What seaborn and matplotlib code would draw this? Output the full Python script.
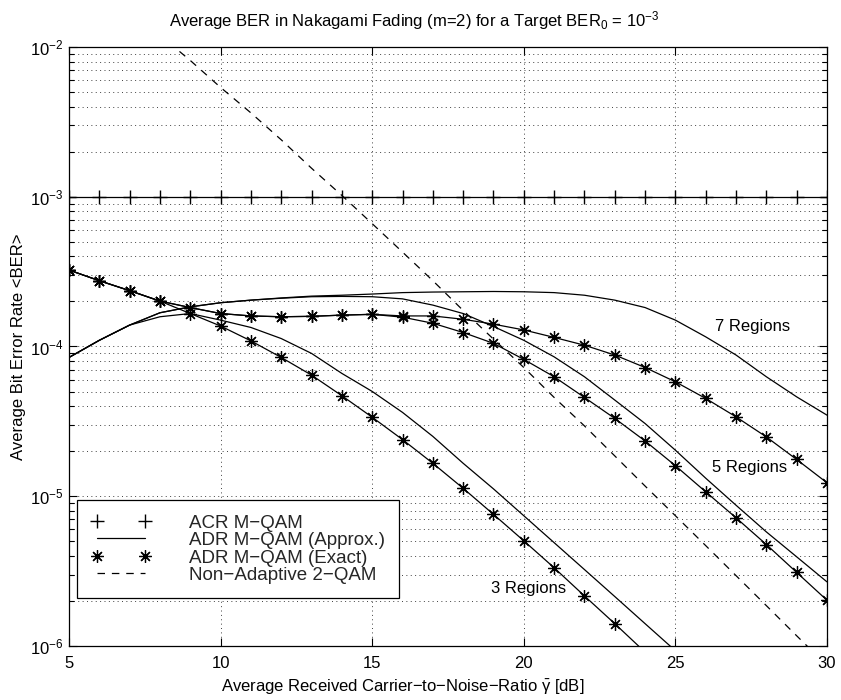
import matplotlib
matplotlib.use("Agg")
import matplotlib.pyplot as plt
from matplotlib.lines import Line2D
from matplotlib.ticker import FixedLocator, LogLocator, LogFormatterMathtext, NullFormatter
import seaborn as sns

# Average carrier-to-noise ratio grid [dB]
snr_db = [5, 6, 7, 8, 9, 10, 11, 12, 13, 14, 15, 16, 17, 18, 19, 20,
          21, 22, 23, 24, 25, 26, 27, 28, 29, 30]

# Adaptive constant-rate M-QAM: held at the target BER
ber_acr = [1e-3] * 26

# Adaptive discrete-rate M-QAM, approximate BER
ber_adr3_approx = [8.45e-5, 1.10e-4, 1.39e-4, 1.58e-4, 1.66e-4, 1.50e-4, 1.34e-4,
                   1.13e-4, 8.99e-5, 6.61e-5, 5.01e-5, 3.63e-5, 2.51e-5, 1.66e-5,
                   1.12e-5, 7.41e-6, 4.90e-6, 3.24e-6, 2.14e-6, 1.41e-6, 9.3e-7]
ber_adr5_approx = [8.45e-5, 1.10e-4, 1.39e-4, 1.68e-4, 1.84e-4, 1.96e-4, 2.04e-4,
                   2.10e-4, 2.15e-4, 2.16e-4, 2.15e-4, 2.08e-4, 1.89e-4, 1.66e-4,
                   1.36e-4, 1.10e-4, 8.53e-5, 6.28e-5, 4.39e-5, 3.06e-5, 2.03e-5,
                   1.32e-5, 8.71e-6, 5.78e-6, 3.94e-6, 2.68e-6]
ber_adr7_approx = [8.45e-5, 1.10e-4, 1.39e-4, 1.68e-4, 1.84e-4, 1.96e-4, 2.04e-4,
                   2.11e-4, 2.17e-4, 2.20e-4, 2.24e-4, 2.29e-4, 2.31e-4, 2.32e-4,
                   2.33e-4, 2.32e-4, 2.29e-4, 2.20e-4, 2.04e-4, 1.82e-4, 1.50e-4,
                   1.16e-4, 8.77e-5, 6.28e-5, 4.61e-5, 3.48e-5]

# Adaptive discrete-rate M-QAM, exact BER
ber_adr3_exact = [3.24e-4, 2.75e-4, 2.36e-4, 2.01e-4, 1.66e-4, 1.37e-4, 1.09e-4,
                  8.45e-5, 6.44e-5, 4.69e-5, 3.37e-5, 2.39e-5, 1.66e-5, 1.13e-5,
                  7.57e-6, 5.04e-6, 3.33e-6, 2.16e-6, 1.41e-6, 9.1e-7]
ber_adr5_exact = [3.24e-4, 2.75e-4, 2.36e-4, 2.01e-4, 1.82e-4, 1.66e-4, 1.60e-4,
                  1.58e-4, 1.59e-4, 1.62e-4, 1.64e-4, 1.57e-4, 1.43e-4, 1.24e-4,
                  1.05e-4, 8.20e-5, 6.28e-5, 4.57e-5, 3.31e-5, 2.34e-5, 1.60e-5,
                  1.07e-5, 7.18e-6, 4.76e-6, 3.10e-6, 2.02e-6]
ber_adr7_exact = [3.24e-4, 2.75e-4, 2.36e-4, 2.01e-4, 1.82e-4, 1.66e-4, 1.60e-4,
                  1.58e-4, 1.59e-4, 1.62e-4, 1.64e-4, 1.60e-4, 1.60e-4, 1.52e-4,
                  1.41e-4, 1.29e-4, 1.15e-4, 1.02e-4, 8.77e-5, 7.24e-5, 5.81e-5,
                  4.50e-5, 3.39e-5, 2.49e-5, 1.76e-5, 1.23e-5]

# Non-adaptive BPSK (2-QAM)
snr_db_2qam = [7, 8, 9, 10, 11, 12, 13, 14, 15, 16, 17, 18, 19, 20, 21, 22,
               23, 24, 25, 26, 27, 28, 29, 30]
ber_2qam = [1.41e-2, 1.20e-2, 8.13e-3, 5.37e-3, 3.63e-3, 2.40e-3, 1.55e-3, 1.02e-3,
            6.61e-4, 4.27e-4, 2.75e-4, 1.74e-4, 1.12e-4, 7.24e-5, 4.57e-5, 2.95e-5,
            1.86e-5, 1.17e-5, 7.41e-6, 4.68e-6, 2.95e-6, 1.86e-6, 1.17e-6, 7.4e-7]

legend_labels = ["ACR M\u2212QAM", "ADR M\u2212QAM (Approx.)",
                 "ADR M\u2212QAM (Exact)", "Non\u2212Adaptive 2\u2212QAM"]
region_labels = ["3 Regions", "5 Regions", "7 Regions"]
region_label_pos = [(20.15, 2.43e-6), (27.45, 1.56e-5), (27.55, 1.37e-4)]

sns.set_theme(style="ticks")
plt.rcParams["font.family"] = ["Liberation Sans", "DejaVu Sans"]
plt.rcParams["mathtext.fontset"] = "custom"
plt.rcParams["mathtext.rm"] = "Liberation Sans"
plt.rcParams["mathtext.it"] = "Liberation Sans:italic"
plt.rcParams["mathtext.bf"] = "Liberation Sans:bold"
plt.rcParams["mathtext.default"] = "regular"

fig = plt.figure(figsize=(8.41, 7.00), dpi=100)
ax = fig.add_axes([69 / 841, 1 - 646 / 700, 758 / 841, 599 / 700])

asterisk = (8, 2, 0)
lw = 0.9
common = dict(ax=ax, color="black", lw=lw, mec="black", mfc="none",
              estimator=None, legend=False)

# constant-rate curve
sns.lineplot(x=snr_db, y=ber_acr, marker="+", ms=10, mew=1.0, **common)
# approximate curves
for y in (ber_adr3_approx, ber_adr5_approx, ber_adr7_approx):
    sns.lineplot(x=snr_db[:len(y)], y=y, **common)
# exact curves
for y in (ber_adr3_exact, ber_adr5_exact, ber_adr7_exact):
    sns.lineplot(x=snr_db[:len(y)], y=y, marker=asterisk, ms=9, mew=0.9, **common)
# non-adaptive reference
line_2qam = sns.lineplot(x=snr_db_2qam, y=ber_2qam, **common).lines[-1]
line_2qam.set_dashes((6, 5.5))

ax.set_yscale("log")
ax.set_xlim(5, 30)
ax.set_ylim(1e-6, 1e-2)
ax.xaxis.set_major_locator(FixedLocator([5, 10, 15, 20, 25, 30]))
ax.yaxis.set_major_locator(LogLocator(base=10, numticks=10))
ax.yaxis.set_minor_locator(LogLocator(base=10, subs=range(2, 10), numticks=20))
ax.yaxis.set_major_formatter(LogFormatterMathtext())
ax.yaxis.set_minor_formatter(NullFormatter())

ax.set_axisbelow(True)
grid_kw = dict(color="0.25", lw=0.7, ls=(0, (1, 3.5)))
ax.grid(which="major", axis="both", **grid_kw)
ax.grid(which="minor", axis="y", **grid_kw)

ax.tick_params(which="both", direction="in", top=True, right=True,
               color="black", labelsize=12, labelcolor="black")
ax.tick_params(which="major", length=6, width=0.8)
ax.tick_params(which="minor", length=3.5, width=0.8)
ax.tick_params(axis="x", pad=7)
ax.tick_params(axis="y", pad=4)
for s in ax.spines.values():
    s.set_color("black")
    s.set_linewidth(0.9)

ax.set_title("Average BER in Nakagami Fading (m=2) for a Target BER$_{0}$ = 10$^{-3}$",
             fontsize=12, color="black", pad=15)
ax.title.set_x(0.455)
ax.set_xlabel("Average Received Carrier\u2212to\u2212Noise\u2212Ratio $\\bar{\\gamma}$ [dB]",
              fontsize=12, color="black", labelpad=5)
ax.xaxis.label.set_x(0.44)
ax.set_ylabel("Average Bit Error Rate <BER>", fontsize=12, color="black", labelpad=3)

for text, (xp, yp) in zip(region_labels, region_label_pos):
    ax.text(xp, yp, text, fontsize=12, ha="center", va="center", color="black")

handles = [
    Line2D([], [], color="black", ls="none", marker="+", ms=10, mew=1.0),
    Line2D([], [], color="black", lw=lw),
    Line2D([], [], color="black", ls="none", marker=asterisk, ms=9, mew=0.9),
    Line2D([], [], color="black", lw=lw, dashes=(6, 5.5)),
]
leg = ax.legend(handles, legend_labels, loc="lower left",
                bbox_to_anchor=(0.0106, 0.080), borderaxespad=0,
                fontsize=13.5, numpoints=2, handlelength=3.2, handletextpad=2.0,
                labelspacing=0.02, borderpad=0.75, frameon=True, fancybox=False,
                framealpha=1, facecolor="white", edgecolor="black")
leg.get_frame().set_linewidth(0.9)

fig.savefig("out.png", dpi=100)
